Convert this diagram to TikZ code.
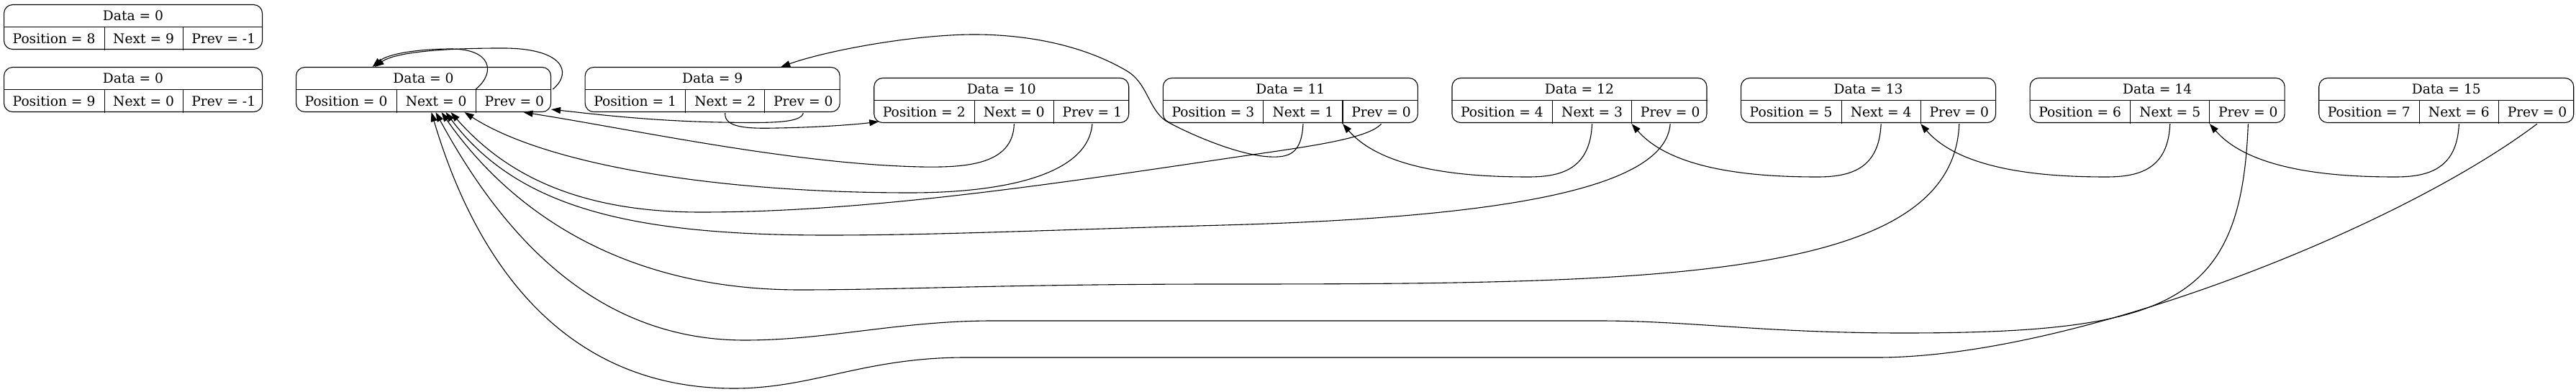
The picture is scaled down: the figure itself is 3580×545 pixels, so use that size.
\documentclass[tikz,border=0pt]{standalone}
\usepackage{fontspec}
\setmainfont{DejaVu Serif}
\usetikzlibrary{arrows.meta}

\begin{document}
\begin{tikzpicture}
[x=1pt, y=-1pt, font=\fontsize{18.67}{22}\selectfont, line width=1.1pt,
recbox/.style={rectangle, draw, rounded corners=12pt, inner sep=0pt, minimum height=62pt},
hdr/.style={rectangle, inner sep=0pt, minimum height=30pt},
cell/.style={rectangle, inner sep=0pt, minimum height=32pt},
ptr/.style={-{Triangle[length=13pt, width=9pt]}, line width=1.1pt}
]

\useasboundingbox (0,0) rectangle (3580,545);

% free records
\foreach \k/\nx/\yy in {8/9/6, 9/0/93} {
  \node[recbox, minimum width=359pt, anchor=north west] (r\k) at (5,\yy) {};
  \node[hdr, minimum width=359pt, anchor=north] (d\k) at (r\k.north) {Data = 0};
  \node[cell, minimum width=139pt, anchor=north west] (p\k) at (d\k.south west) {Position = \k};
  \node[cell, minimum width=108pt, anchor=west] (n\k) at (p\k.east) {Next = \nx};
  \node[cell, minimum width=112pt, anchor=west] (v\k) at (n\k.east) {Prev = -1};
  \draw (d\k.south west) -- (d\k.south east);
  \draw (p\k.north east) -- (p\k.south east);
  \draw (n\k.north east) -- (n\k.south east);
}

% used records
\foreach \i/\dat/\nx/\pv/\yy in {0/0/0/0/93, 1/9/2/0/93, 2/10/0/1/108, 3/11/1/0/108,
                                 4/12/3/0/108, 5/13/4/0/108, 6/14/5/0/108, 7/15/6/0/108} {
  \node[recbox, minimum width=354pt, anchor=north west] (r\i) at ({411+401.6*\i},\yy) {};
  \node[hdr, minimum width=354pt, anchor=north] (d\i) at (r\i.north) {Data = \dat};
  \node[cell, minimum width=139pt, anchor=north west] (p\i) at (d\i.south west) {Position = \i};
  \node[cell, minimum width=109pt, anchor=west] (n\i) at (p\i.east) {Next = \nx};
  \node[cell, minimum width=106pt, anchor=west] (v\i) at (n\i.east) {Prev = \pv};
  \draw (d\i.south west) -- (d\i.south east);
  \draw (p\i.north east) -- (p\i.south east);
  \draw (n\i.north east) -- (n\i.south east);
}

% record 0 points to itself
\draw[ptr] (n0.north east) .. controls (690,100) and (682,68) .. (627,68) .. controls (585,68) and (540,74) .. ([xshift=-71pt]r0.north);
\draw[ptr] (v0.north east) .. controls (797,100) and (782,66) .. (695,67) .. controls (620,67) and (550,72) .. ([xshift=-68pt]r0.north);

% record 1
\draw[ptr] (v1.south) .. controls (1113,172) and (1065,171) .. (1000,170) .. controls (900,168) and (820,158) .. ([yshift=4pt]r0.south east);
\draw[ptr] (n1.south) .. controls (1006,178) and (1040,179) .. (1080,178) .. controls (1140,177) and (1190,173) .. ([xshift=7pt,yshift=2pt]r2.south west);

% record 2
\draw[ptr] (n2.south) .. controls (1408,230) and (1340,233) .. (1280,232) .. controls (1100,228) and (880,180) .. ([xshift=139pt]r0.south);
\draw[ptr] (v2.south) .. controls (1512,245) and (1390,268) .. (1265,268) .. controls (1000,268) and (760,230) .. ([xshift=57pt]r0.south);

% record 3
\draw[ptr] (n3.south) .. controls (1809,215) and (1790,219) .. (1765,218) .. controls (1720,216) and (1650,185) .. (1620,168)
  .. controls (1595,150) and (1595,115) .. (1565,98) .. controls (1500,60) and (1420,48) .. (1354,48)
  .. controls (1270,48) and (1150,70) .. ([xshift=95pt]r1.north);
\draw[ptr] (v3.south) .. controls (1900,195) and (1800,206) .. (1700,221) .. controls (1450,258) and (1200,295) .. (974,295)
  .. controls (800,295) and (700,240) .. ([xshift=38pt]r0.south);

% records 4 to 7, prev pointers
\draw[ptr] (v4.south) .. controls (2315,260) and (2100,302) .. (1700,313) .. controls (1450,320) and (1300,327) .. (1150,327)
  .. controls (880,327) and (720,290) .. ([xshift=31pt]r0.south);
\draw[ptr] (v5.south) .. controls (2715,390) and (2300,395) .. (1700,395) .. controls (1400,395) and (1250,403) .. (1112,403)
  .. controls (850,403) and (700,280) .. ([xshift=25pt]r0.south);
\draw[ptr] (v6.south) .. controls (3115,420) and (3020,463) .. (2645,463) .. controls (2450,463) and (2350,446) .. (2221,446)
  -- (1380,446) .. controls (1250,446) and (1150,473) .. (1035,473) .. controls (830,473) and (700,330) .. ([xshift=17pt]r0.south);
\draw[ptr] (v7.south) .. controls (3330,320) and (2880,497) .. (2609,497) -- (1342,497) .. controls (1200,497) and (1130,540) .. (1020,540)
  .. controls (780,540) and (660,360) .. ([xshift=11pt]r0.south);

% records 4 to 7, next pointers
\foreach \k [evaluate=\k as \j using int(\k-1), evaluate=\k as \dx using 401.6*(\k-4)] in {4,...,7} {
  \draw[ptr] (n\k.south) .. controls ({2210+\dx},235) and ({2170+\dx},246) .. ({2124+\dx},246)
    .. controls ({2050+\dx},246) and ({1925+\dx},240) .. (v\j.south west);
}

\end{tikzpicture}
\end{document}
